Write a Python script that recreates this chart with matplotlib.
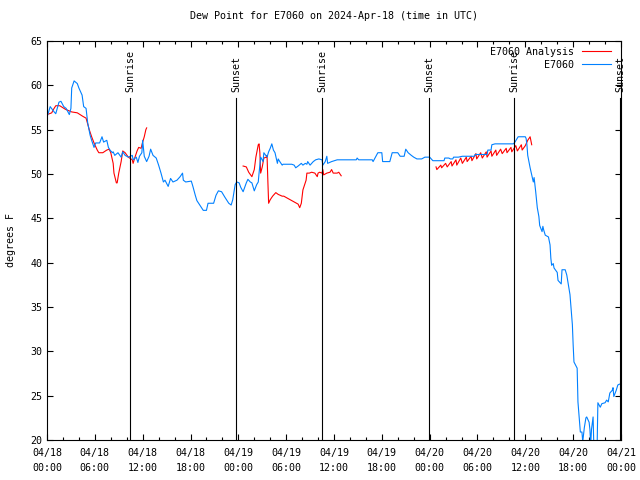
import numpy as np
import matplotlib
matplotlib.use("Agg")
import matplotlib.pyplot as plt

# hours since 2024-04-18 00:00 UTC, dew point in degrees F
obs_hours = [
    0.0, 0.4, 0.9, 1.1, 1.5, 1.75, 2.1, 2.4, 2.8, 3.0, 3.1, 3.4, 3.8, 4.0, 4.4, 4.6,
    4.9, 5.0, 5.1, 5.4, 5.6, 5.9, 6.1, 6.6, 6.9, 7.1, 7.5, 7.7, 7.9, 8.2, 8.3, 8.5,
    8.9, 9.3, 9.5, 9.8, 10.2, 10.7, 10.8, 11.2, 11.4, 11.6, 11.9, 12.0, 12.2, 12.5,
    12.8, 13.0, 13.3, 13.7, 14.0, 14.3, 14.6, 14.8, 15.2, 15.5, 15.8, 16.3, 16.7,
    17.0, 17.1, 17.4, 18.1, 18.3, 18.6, 18.8, 19.3, 19.6, 20.0, 20.2, 20.9, 21.2,
    21.5, 21.9, 22.3, 22.8, 23.1, 23.3, 23.6, 23.8, 24.1, 24.3, 24.6, 25.0, 25.2,
    25.5, 25.7, 26.0, 26.3, 26.5, 26.6, 26.8, 27.1, 27.2, 27.6, 27.8, 28.0, 28.2,
    28.4, 28.6, 28.9, 29.0, 29.2, 29.5, 29.6, 30.7, 31.0, 31.2, 31.5, 31.9, 32.1,
    32.4, 32.6, 32.7, 33.0, 33.4, 33.7, 34.1, 34.5, 34.6, 34.9, 35.1, 35.2, 35.7,
    36.4, 38.8, 38.9, 39.1, 40.8, 40.9, 41.5, 42.0, 42.1, 43.0, 43.3, 44.0, 44.3,
    44.8, 45.0, 45.3, 45.7, 46.0, 46.4, 47.0, 47.4, 48.0, 48.4, 49.8, 49.9, 50.4,
    50.6, 50.9, 51.0, 51.6, 52.1, 53.6, 53.7, 55.2, 55.3, 55.7, 55.8, 56.2, 58.5,
    58.7, 59.1, 60.0, 60.1, 60.2, 60.3, 60.6, 60.8, 61.0, 61.1, 61.3, 61.5, 61.7,
    61.8, 62.1, 62.2, 62.3, 62.5, 62.9, 63.1, 63.2, 63.3, 63.5, 63.6, 64.0, 64.1,
    64.4, 64.5, 64.6, 65.0, 65.2, 65.4, 65.6, 65.9, 66.0, 66.1, 66.5, 66.6, 66.9,
    67.1, 67.2, 67.4, 67.6, 67.7, 68.0, 68.1, 68.2, 68.3, 68.5, 68.6, 69.0, 69.1,
    69.4, 69.6, 70.0, 70.2, 70.4, 70.6, 70.9, 71.0, 71.1, 71.4, 71.6, 71.8, 72.0,
]
obs_dewpt = [
    56.4, 57.6, 57.0, 56.8, 58.1, 58.2, 57.6, 57.4, 56.7, 57.4, 59.7, 60.5, 60.2, 59.7, 58.9, 57.6,
    57.4, 56.6, 55.8, 54.4, 53.8, 53.0, 53.5, 53.5, 54.2, 53.6, 53.8, 53.0, 52.7, 52.4, 52.5, 52.1,
    52.4, 51.9, 52.5, 52.1, 51.9, 52.1, 51.6, 51.9, 51.3, 52.0, 52.4, 53.8, 52.0, 51.4,
    52.0, 52.8, 52.1, 51.8, 51.0, 50.1, 49.1, 49.3, 48.6, 49.5, 49.1, 49.3, 49.7,
    50.1, 49.3, 49.1, 49.2, 48.6, 47.6, 47.0, 46.3, 45.9, 45.9, 46.7, 46.7, 47.6,
    48.1, 48.0, 47.4, 46.7, 46.5, 47.1, 48.8, 49.1, 49.0, 48.5, 48.0, 49.0, 49.4,
    49.1, 49.0, 48.1, 48.8, 49.1, 50.1, 51.9, 51.4, 52.4, 51.9, 52.5, 52.9, 53.4,
    52.7, 52.4, 51.2, 51.7, 51.4, 51.0, 51.1, 51.1, 51.0, 50.7, 50.9, 51.2, 51.0,
    51.2, 51.1, 51.4, 51.0, 51.4, 51.6, 51.7, 51.6, 51.0, 51.4, 52.0, 51.2, 51.4,
    51.6, 51.6, 51.8, 51.6, 51.6, 51.4, 52.4, 52.4, 51.4, 51.4, 52.4, 52.4, 52.0,
    52.0, 52.8, 52.4, 52.1, 51.9, 51.7, 51.7, 51.9, 51.9, 51.5, 51.5, 51.8, 51.8,
    51.7, 51.7, 51.9, 51.9, 52.0, 52.0, 52.2, 52.2, 52.7, 52.7, 53.3, 53.4, 53.4,
    53.6, 54.2, 54.2, 54.0, 53.3, 52.1, 50.7, 49.9, 49.1, 49.6, 48.0, 46.2, 45.2,
    44.2, 43.5, 44.1, 43.7, 43.1, 42.9, 42.0, 40.5, 39.7, 39.9, 39.4, 38.9, 38.0,
    37.7, 37.6, 39.2, 39.2, 38.6, 37.5, 36.4, 33.0, 30.7, 28.8, 28.1, 24.3, 20.9,
    20.9, 19.8, 21.4, 22.5, 22.6, 22.0, 21.2, 19.5, 21.2, 22.6, 19.0, 19.0, 24.2,
    23.7, 24.1, 24.2, 24.5, 24.3, 25.3, 25.6, 25.9, 24.9, 25.6, 26.2, 26.3, 26.3,
]

# analysis series, three runs separated by gaps
ana_hours_1 = [
    0.0, 0.6, 0.75, 1.1, 1.6, 2.3, 3.1, 3.8, 4.5, 4.9, 5.3, 5.6, 5.9, 6.3, 6.5, 7.0,
    7.5, 7.8, 8.0, 8.3, 8.4, 8.7, 8.8, 9.0, 9.3, 9.5, 9.8, 10.2, 10.7, 10.8, 11.0,
    11.3, 11.5, 11.8, 12.0, 12.2, 12.4, 12.5,
]
ana_dewpt_1 = [
    56.7, 56.9, 57.2, 57.7, 57.7, 57.3, 57.0, 56.9, 56.5, 56.3, 55.0, 54.2, 53.5, 52.7, 52.4, 52.4,
    52.7, 52.8, 52.4, 51.2, 50.1, 49.0, 49.0, 50.1, 51.4, 52.6, 52.4, 51.9, 51.6, 51.2, 51.8,
    52.6, 53.0, 52.9, 53.6, 54.2, 55.0, 55.2,
]
ana_hours_2 = [
    24.6, 25.0, 25.3, 25.7, 26.0, 26.2, 26.5, 26.6, 26.7, 26.8, 27.0, 27.2, 27.5, 27.6,
    27.7, 27.8, 28.0, 28.3, 28.7, 29.0, 29.5, 29.7, 30.1, 30.5, 31.1, 31.5, 31.7, 31.9,
    32.1, 32.5, 32.6, 32.9, 33.2, 33.6, 33.9, 34.0, 34.2, 34.5, 34.6, 34.7, 35.1, 35.5,
    35.7, 35.9, 36.4, 36.6, 36.9,
]
ana_dewpt_2 = [
    50.9, 50.8, 50.2, 49.7, 50.5, 51.9, 53.3, 53.4, 52.4, 50.1, 50.8, 51.8, 51.9, 52.1,
    49.3, 46.7, 47.1, 47.5, 47.9, 47.7, 47.5, 47.5, 47.3, 47.1, 46.8, 46.6, 46.2, 46.7,
    48.2, 49.3, 50.1, 50.1, 50.2, 50.1, 49.7, 50.1, 50.2, 50.1, 50.5, 49.9, 50.1, 50.2,
    50.5, 50.1, 50.1, 50.2, 49.8,
]
ana_hours_3 = [
    48.8, 48.9, 49.4, 49.5, 50.0, 50.2, 50.7, 50.8, 51.3, 51.4, 51.9, 52.1, 52.6, 52.7,
    53.2, 53.3, 53.8, 53.9, 54.4, 54.6, 55.1, 55.2, 55.7, 55.8, 56.3, 56.4, 56.9, 57.1,
    57.6, 57.7, 58.2, 58.3, 58.8, 59.0, 59.5, 59.6, 60.0, 60.3, 60.6, 60.8,
]
ana_dewpt_3 = [
    50.8, 50.5, 51.0, 50.7, 51.2, 50.8, 51.4, 50.9, 51.6, 51.0, 51.8, 51.2, 51.9, 51.4,
    52.0, 51.5, 52.3, 51.7, 52.4, 51.8, 52.5, 51.9, 52.6, 52.0, 52.7, 52.1, 52.8, 52.3,
    52.9, 52.4, 53.0, 52.5, 53.2, 52.6, 53.3, 52.7, 53.2, 53.8, 54.2, 53.3,
]

sun_hours = [10.41, 23.71, 34.50, 47.92, 58.58, 71.88]
sun_labels = ["Sunrise", "Sunset", "Sunrise", "Sunset", "Sunrise", "Sunset"]

xtick_hours = [0, 6, 12, 18, 24, 30, 36, 42, 48, 54, 60, 66, 72]
xtick_labels = ["04/18\n00:00", "04/18\n06:00", "04/18\n12:00", "04/18\n18:00",
                "04/19\n00:00", "04/19\n06:00", "04/19\n12:00", "04/19\n18:00",
                "04/20\n00:00", "04/20\n06:00", "04/20\n12:00", "04/20\n18:00",
                "04/21\n00:00"]

plt.rcParams['font.family'] = ['DejaVu Sans Mono']
plt.rcParams['font.size'] = 7.2

fig = plt.figure(figsize=(6.4, 4.8), dpi=100)
ax = fig.add_axes([47 / 640, 1 - 440 / 480, 574 / 640, 399 / 480])

ana_h = ana_hours_1 + [np.nan] + ana_hours_2 + [np.nan] + ana_hours_3
ana_v = ana_dewpt_1 + [np.nan] + ana_dewpt_2 + [np.nan] + ana_dewpt_3

ax.plot(ana_h, ana_v, color='#ff0000', lw=0.8, label='E7060 Analysis')
ax.plot(obs_hours, obs_dewpt, color='#0080ff', lw=0.8, label='E7060')

# sunrise / sunset markers
for h, lab in zip(sun_hours, sun_labels):
    ax.plot([h, h], [0, 0.857], color='black', lw=0.8,
            transform=ax.get_xaxis_transform())
    ax.text(h, 0.873, lab, rotation=90, ha='center', va='bottom',
            transform=ax.get_xaxis_transform())

ax.set_xlim(0, 72)
ax.set_ylim(20, 65)
ax.set_xticks(xtick_hours)
ax.set_xticklabels(xtick_labels, linespacing=1.6)
ax.set_xticks(np.arange(0, 73, 2), minor=True)
ax.set_yticks(np.arange(20, 66, 5))
ax.tick_params(which='both', direction='in', top=True, right=True, width=0.8)
ax.tick_params(which='major', length=4)
ax.tick_params(which='minor', length=2.2)
ax.tick_params(axis='x', pad=6)
for s in ax.spines.values():
    s.set_linewidth(0.8)

ax.set_ylabel('degrees F', labelpad=10)
ax.set_title('Dew Point for E7060 on 2024-Apr-18 (time in UTC)', fontsize=7.2, pad=16)

ax.legend(loc='upper right', bbox_to_anchor=(0.993, 1.0), frameon=False,
          markerfirst=False, handlelength=2.9, borderaxespad=0.2,
          labelspacing=0.3, handletextpad=0.8)

fig.savefig('out.png', dpi=100)
